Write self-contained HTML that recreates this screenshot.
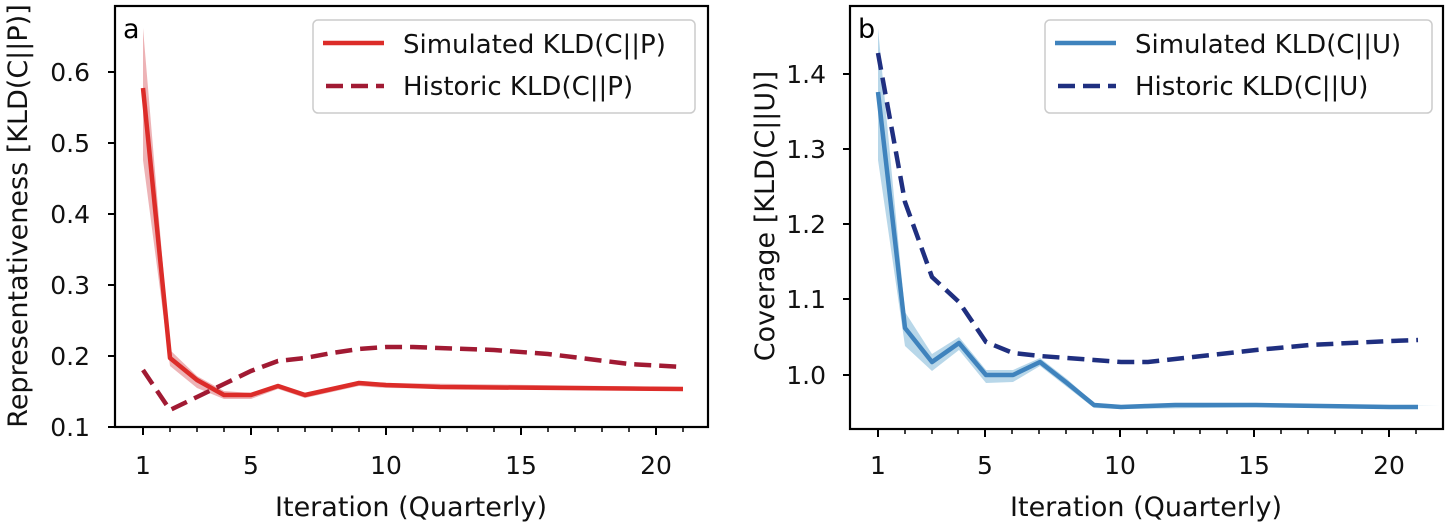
<!DOCTYPE html>
<html><head><meta charset="utf-8"><style>
html,body{margin:0;padding:0;background:#fff;}
svg{display:block;font-family:"DejaVu Sans","Liberation Sans",sans-serif;}
</style></head><body>
<svg width="1450" height="526" viewBox="0 0 1450 526" xmlns="http://www.w3.org/2000/svg">
<rect width="1450" height="526" fill="#fff"/>
<!-- Panel a -->
<polygon points="143,28 170,350 197,376 224,391 251,393 278,384 305,393 359,381 386,383 683,387 683,391 386,388 359,386 305,398 278,389 251,399 224,399 197,388 170,366 143,160" fill="#e8a0a4" opacity="0.8"/>
<polyline points="143,88 170,358 197,380 224,395 251,395 278,386 305,395 359,383 386,385 413,386 440,387 683,389" fill="none" stroke="#dc2c29" stroke-width="4.5" stroke-linejoin="round"/>
<polyline points="143,370 170,410 197,397 224,384 251,371 278,361 305,358 332,353 359,349 386,347 413,347 494,350 548,354 629,364 683,367" fill="none" stroke="#a11a33" stroke-width="4.5" stroke-dasharray="17,8"/>
<rect x="115" y="6" width="593" height="421" fill="none" stroke="#000" stroke-width="2.2"/>
<g stroke="#000" stroke-width="2">
<line x1="108" y1="72" x2="115" y2="72"/><line x1="108" y1="143" x2="115" y2="143"/><line x1="108" y1="214" x2="115" y2="214"/><line x1="108" y1="285" x2="115" y2="285"/><line x1="108" y1="356" x2="115" y2="356"/><line x1="108" y1="427" x2="115" y2="427"/>
<line x1="143" y1="427" x2="143" y2="435"/><line x1="251" y1="427" x2="251" y2="435"/><line x1="386" y1="427" x2="386" y2="435"/><line x1="521" y1="427" x2="521" y2="435"/><line x1="656" y1="427" x2="656" y2="435"/>
</g>
<g stroke="#000" stroke-width="1.5">
<line x1="170" y1="427" x2="170" y2="432"/><line x1="197" y1="427" x2="197" y2="432"/><line x1="224" y1="427" x2="224" y2="432"/><line x1="278" y1="427" x2="278" y2="432"/><line x1="305" y1="427" x2="305" y2="432"/><line x1="332" y1="427" x2="332" y2="432"/><line x1="359" y1="427" x2="359" y2="432"/><line x1="413" y1="427" x2="413" y2="432"/><line x1="440" y1="427" x2="440" y2="432"/><line x1="467" y1="427" x2="467" y2="432"/><line x1="494" y1="427" x2="494" y2="432"/><line x1="548" y1="427" x2="548" y2="432"/><line x1="575" y1="427" x2="575" y2="432"/><line x1="602" y1="427" x2="602" y2="432"/><line x1="629" y1="427" x2="629" y2="432"/><line x1="683" y1="427" x2="683" y2="432"/>
</g>
<g font-size="25" fill="#111" text-anchor="end">
<text x="90" y="81">0.6</text><text x="90" y="152">0.5</text><text x="90" y="223">0.4</text><text x="90" y="294">0.3</text><text x="90" y="365">0.2</text><text x="90" y="436">0.1</text>
</g>
<g font-size="25" fill="#111" text-anchor="middle">
<text x="143" y="474">1</text><text x="251" y="474">5</text><text x="386" y="474">10</text><text x="521" y="474">15</text><text x="656" y="474">20</text>
</g>
<text x="411" y="516" font-size="27" fill="#111" text-anchor="middle">Iteration (Quarterly)</text>
<text transform="translate(27,216) rotate(-90)" font-size="27" fill="#111" text-anchor="middle">Representativeness [KLD(C||P)]</text>
<text x="123" y="38" font-size="27" fill="#000">a</text>
<rect x="313" y="20" width="382" height="93" rx="5" fill="#fff" stroke="#ccc" stroke-width="1.5"/>
<line x1="323" y1="43" x2="384" y2="43" stroke="#dc2c29" stroke-width="4.5"/>
<line x1="326" y1="86" x2="384" y2="86" stroke="#a11a33" stroke-width="4.5" stroke-dasharray="17,8"/>
<text x="403" y="53" font-size="26" fill="#111">Simulated KLD(C||P)</text>
<text x="403" y="95" font-size="26" fill="#111">Historic KLD(C||P)</text>

<!-- Panel b -->
<polygon points="878,28 905,312 932,354 959,337 986,370 1013,370 1040,358 1067,379 1094,403 1121,405 1440,405 1121,409 1094,408 1067,387 1040,366 1013,382 986,383 959,350 932,371 905,346 878,160" fill="#a6cde3" opacity="0.8"/>
<polyline points="878,92 905,328 932,362 959,343 986,375 1013,375 1040,362 1067,383 1094,405 1121,407 1148,406 1175,405 1229,405 1256,405 1390,407 1418,407" fill="none" stroke="#3f83bd" stroke-width="4.5" stroke-linejoin="round"/>
<polyline points="878,53 905,202 932,277 959,302 986,342 1013,353 1040,356 1121,362 1148,362 1202,356 1256,350 1310,345 1390,341 1418,340" fill="none" stroke="#1f2f80" stroke-width="4.5" stroke-dasharray="17,8"/>
<rect x="850" y="6" width="593" height="423" fill="none" stroke="#000" stroke-width="2.2"/>
<g stroke="#000" stroke-width="2">
<line x1="843" y1="74" x2="850" y2="74"/><line x1="843" y1="149" x2="850" y2="149"/><line x1="843" y1="224" x2="850" y2="224"/><line x1="843" y1="299" x2="850" y2="299"/><line x1="843" y1="375" x2="850" y2="375"/>
<line x1="878" y1="429" x2="878" y2="437"/><line x1="985" y1="429" x2="985" y2="437"/><line x1="1120" y1="429" x2="1120" y2="437"/><line x1="1254" y1="429" x2="1254" y2="437"/><line x1="1389" y1="429" x2="1389" y2="437"/>
</g>
<g stroke="#000" stroke-width="1.5">
<line x1="905" y1="429" x2="905" y2="434"/><line x1="932" y1="429" x2="932" y2="434"/><line x1="958" y1="429" x2="958" y2="434"/><line x1="1012" y1="429" x2="1012" y2="434"/><line x1="1039" y1="429" x2="1039" y2="434"/><line x1="1066" y1="429" x2="1066" y2="434"/><line x1="1093" y1="429" x2="1093" y2="434"/><line x1="1147" y1="429" x2="1147" y2="434"/><line x1="1174" y1="429" x2="1174" y2="434"/><line x1="1200" y1="429" x2="1200" y2="434"/><line x1="1227" y1="429" x2="1227" y2="434"/><line x1="1281" y1="429" x2="1281" y2="434"/><line x1="1308" y1="429" x2="1308" y2="434"/><line x1="1335" y1="429" x2="1335" y2="434"/><line x1="1362" y1="429" x2="1362" y2="434"/><line x1="1416" y1="429" x2="1416" y2="434"/>
</g>
<g font-size="25" fill="#111" text-anchor="end">
<text x="826" y="83">1.4</text><text x="826" y="158">1.3</text><text x="826" y="233">1.2</text><text x="826" y="308">1.1</text><text x="826" y="384">1.0</text>
</g>
<g font-size="25" fill="#111" text-anchor="middle">
<text x="878" y="474">1</text><text x="985" y="474">5</text><text x="1120" y="474">10</text><text x="1254" y="474">15</text><text x="1389" y="474">20</text>
</g>
<text x="1146" y="516" font-size="27" fill="#111" text-anchor="middle">Iteration (Quarterly)</text>
<text transform="translate(774,216) rotate(-90)" font-size="27" fill="#111" text-anchor="middle">Coverage [KLD(C||U)]</text>
<text x="858" y="38" font-size="27" fill="#000">b</text>
<rect x="1045" y="20" width="387" height="93" rx="5" fill="#fff" stroke="#ccc" stroke-width="1.5"/>
<line x1="1055" y1="43" x2="1116" y2="43" stroke="#3f83bd" stroke-width="4.5"/>
<line x1="1058" y1="86" x2="1116" y2="86" stroke="#1f2f80" stroke-width="4.5" stroke-dasharray="17,8"/>
<text x="1135" y="53" font-size="26" fill="#111">Simulated KLD(C||U)</text>
<text x="1135" y="95" font-size="26" fill="#111">Historic KLD(C||U)</text>
</svg>
</body></html>
